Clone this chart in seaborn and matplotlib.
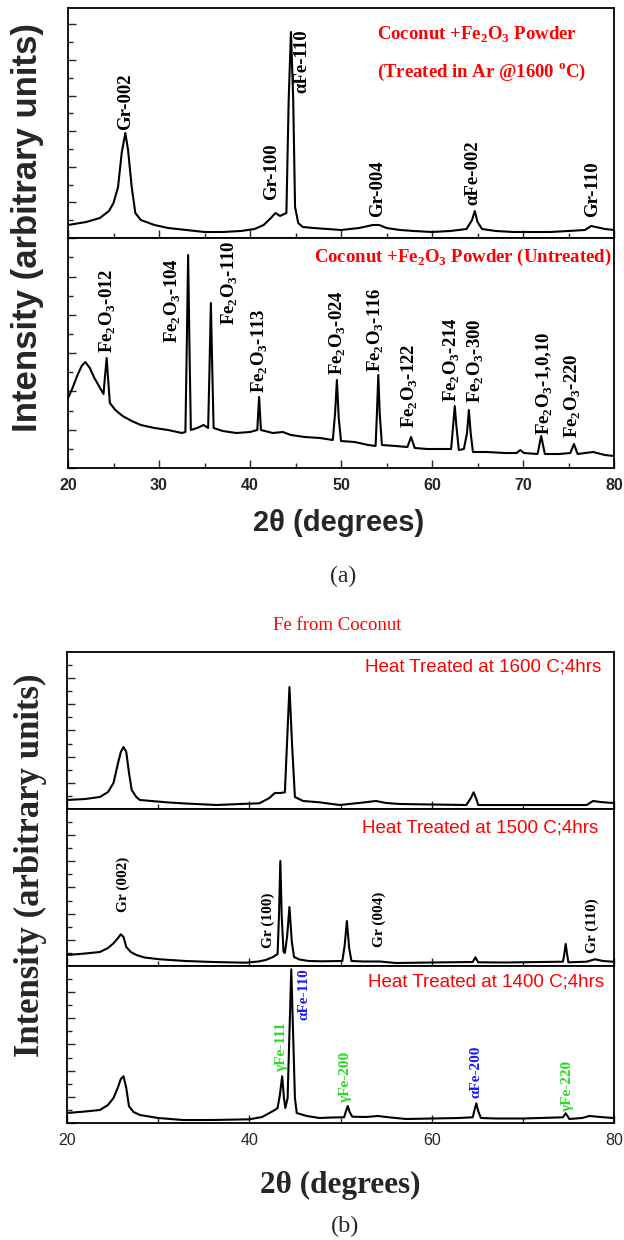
import matplotlib
matplotlib.use("Agg")
from matplotlib import pyplot as plt
from matplotlib.ticker import MultipleLocator
import seaborn as sns

# ------------------------------------------------------------
#     data (intensity in arbitrary units)
# ------------------------------------------------------------

# (a) top: Coconut + Fe2O3, treated in Ar @1600 C
tt_a_treated = [20.0, 22.0, 23.5, 24.5, 25.0, 25.5, 25.9, 26.3, 26.6, 27.0, 27.4, 28.0,
                29.5, 31.0, 33.0, 35.0, 37.0, 39.0, 40.5, 41.5, 42.3, 42.8, 43.3, 44.0,
                44.25, 44.5, 44.75, 44.95, 45.3, 45.8, 47.0, 48.5, 50.0, 52.0, 53.5, 54.2,
                55.0, 56.5, 58.0, 60.0, 62.0, 63.8, 64.4, 64.7, 65.0, 65.5, 67.0, 69.0,
                71.0, 73.0, 75.0, 76.8, 77.5, 78.0, 79.0, 80.0]
i_a_treated = [13, 16, 20, 27, 35, 51, 85, 105, 88, 51, 25, 18,
               13, 10, 8, 6, 6, 7, 9, 13, 20, 25, 22, 25,
               138, 206, 138, 31, 15, 11, 10, 9, 8, 10, 13, 13,
               10, 8, 7, 6, 7, 9, 18, 27, 16, 9, 7, 6,
               6, 6, 7, 8, 12, 11, 9, 8]

# (a) bottom: Coconut + Fe2O3, untreated
tt_a_raw = [20.0, 20.5, 21.0, 21.5, 21.9, 22.4, 22.9, 23.4, 23.9, 24.1, 24.25, 24.4,
            24.6, 25.2, 26.0, 27.0, 28.0, 29.5, 31.0, 32.5, 32.9, 33.05, 33.2, 33.35,
            33.5, 34.2, 34.9, 35.4, 35.55, 35.7, 35.85, 36.0, 37.0, 38.5, 40.0, 40.8,
            41.0, 41.2, 42.5, 43.6, 44.5, 46.0, 47.7, 49.1, 49.35, 49.55, 49.75, 50.0,
            51.5, 53.0, 53.8, 53.95, 54.1, 54.25, 54.5, 56.0, 57.3, 57.7, 58.1, 59.5,
            61.0, 62.1, 62.3, 62.5, 62.7, 62.95, 63.5, 63.85, 64.05, 64.25, 64.5, 66.0,
            68.0, 69.3, 69.7, 70.1, 71.6, 72.0, 72.4, 74.0, 75.2, 75.6, 76.0, 77.7,
            79.0, 80.0]
i_a_raw = [70, 80, 92, 102, 106, 100, 90, 82, 74, 95, 110, 90,
           65, 58, 52, 47, 43, 40, 38, 35, 36, 120, 213, 120,
           38, 40, 43, 40, 100, 165, 100, 40, 37, 35, 36, 38,
           71, 38, 35, 36, 33, 31, 30, 28, 55, 88, 50, 27,
           26, 23, 22, 55, 93, 55, 23, 22, 21, 31, 20, 19,
           19, 19, 40, 62, 40, 18, 19, 35, 58, 35, 16, 16,
           15, 15, 18, 15, 14, 32, 14, 14, 15, 24, 14, 16,
           13, 12]

# (b) Fe from coconut, heat treated 1600 / 1500 / 1400 C, 4 hrs
tt_1600 = [20.0, 22.0, 23.6, 24.5, 25.1, 25.6, 25.9, 26.2, 26.5, 26.8, 27.1, 27.6,
           28.0, 30.9, 33.0, 36.4, 39.0, 41.1, 42.2, 42.8, 43.4, 43.9, 44.1, 44.4,
           44.7, 45.0, 45.9, 47.7, 49.9, 52.0, 53.9, 55.0, 56.5, 60.0, 63.8, 64.3,
           64.6, 64.9, 65.1, 68.0, 72.0, 77.0, 77.7, 78.5, 79.9]
i_1600 = [9, 10, 12, 17, 26, 46, 57, 62, 57, 36, 19, 12,
          9, 6.7, 5.5, 4, 5, 5.7, 11, 16, 16, 16.7, 59, 122,
          62, 12, 8, 6.7, 4, 6, 8, 6, 5, 4.5, 4, 11,
          16.7, 10, 4, 4, 4, 4, 8, 7, 6]

tt_1500 = [20.0, 22.0, 23.6, 24.5, 25.1, 25.6, 25.9, 26.2, 26.5, 27.0, 27.6, 28.5,
           30.2, 33.0, 36.0, 39.6, 41.0, 41.8, 42.6, 43.1, 43.25, 43.4, 43.55, 43.75,
           43.9, 44.15, 44.4, 44.65, 44.9, 45.5, 46.5, 48.0, 50.2, 50.45, 50.7, 50.95,
           51.2, 52.5, 54.3, 56.1, 60.0, 64.5, 64.8, 65.1, 68.0, 72.0, 74.4, 74.55,
           74.7, 74.85, 75.0, 77.0, 77.9, 78.8, 79.9]
i_1500 = [11, 12.5, 14, 18, 22.7, 28, 31.7, 29, 19, 14, 11, 8.5,
          6.7, 5, 4, 3.3, 4.5, 6, 9, 12, 50, 105, 50, 14,
          13, 30, 59, 25, 9, 6.5, 5, 4.7, 5, 20, 45, 18,
          5, 4.5, 4.5, 3, 3.5, 4, 8.7, 3.7, 3.5, 4, 4.3, 12,
          22, 12, 3.7, 4.3, 6.7, 5, 4.3]

tt_1400 = [20.0, 22.0, 23.6, 24.5, 25.1, 25.6, 25.9, 26.2, 26.5, 26.8, 27.3, 28.0,
           30.0, 32.7, 36.0, 40.0, 41.4, 42.2, 42.8, 43.1, 43.35, 43.6, 43.8, 43.95,
           44.2, 44.4, 44.6, 44.8, 45.0, 45.2, 46.3, 47.7, 49.0, 50.4, 50.6, 50.8,
           51.0, 51.3, 52.8, 54.1, 55.5, 57.2, 60.0, 63.0, 64.5, 64.7, 64.9, 65.1,
           65.4, 67.0, 70.0, 74.4, 74.7, 75.1, 76.5, 77.3, 78.5, 79.9]
i_1400 = [10, 11.5, 13, 18, 25, 36, 44, 46.7, 35, 16.7, 11, 8,
          5, 3, 3, 3.7, 6, 10, 13, 15, 28, 46.7, 25, 15,
          25, 90, 153.7, 90, 25, 10, 7, 5, 5.5, 5.7, 12, 17,
          11, 6.3, 6, 7, 5.5, 4, 4.5, 5, 5.7, 13, 19.7, 12,
          5, 4.5, 4.5, 5.7, 9.7, 4, 5, 7, 6, 5]

# peak labels: text, 2theta, height where the label starts
lab_a_treated = ["Gr-002", "Gr-100", "\u03b1Fe-110", "Gr-004", "\u03b1Fe-002", "Gr-110"]
lab_a_treated_x = [26.3, 42.4, 45.7, 54.0, 64.5, 77.7]
lab_a_treated_y = [108, 38, 145, 21, 33, 21]

fe2o3 = r"Fe$_\mathregular{2}$O$_\mathregular{3}$-"
lab_a_raw = ["012", "104", "110", "113", "024", "116", "122", "214", "300", "1,0,10", "220"]
lab_a_raw_x = [24.4, 31.5, 37.8, 41.1, 49.6, 53.8, 57.6, 62.2, 64.8, 72.4, 75.5]
lab_a_raw_y = [115, 125, 143, 75, 93, 96, 40, 66, 65, 33, 30]

lab_1500 = ["Gr (002)", "Gr (100)", "Gr (004)", "Gr (110)"]
lab_1500_x = [26.2, 42.1, 54.3, 77.6]
lab_1500_y = [54, 18, 19, 13]

lab_1400 = ["\u03b3Fe-111", "\u03b1Fe-110", "\u03b3Fe-200", "\u03b1Fe-200", "\u03b3Fe-220"]
lab_1400_x = [43.5, 46.0, 50.6, 64.9, 74.9]
lab_1400_y = [51, 103, 20, 25, 11]
lab_1400_c = ["#22dd22", "#1a1aff", "#22dd22", "#1a1aff", "#22dd22"]

# ------------------------------------------------------------
#     plotting
# ------------------------------------------------------------

sns.set_style("ticks")
plt.rcParams["font.family"] = ["Liberation Sans", "DejaVu Sans"]
plt.rcParams["mathtext.fontset"] = "dejavusans"

W, H = 624, 1240
fig = plt.figure(figsize=(W / 100, H / 100), dpi=100)

SERIF = ["Liberation Serif", "DejaVu Serif"]
SANS = ["Liberation Sans", "DejaVu Sans"]


def add_ax(x0, y0, x1, y1):
    return fig.add_axes([x0 / W, 1 - y1 / H, (x1 - x0) / W, (y1 - y0) / H])


def panel(ax, tt, inten, ymax, ystep, xstep, labels_on, bold_ticks):
    sns.lineplot(x=tt, y=inten, ax=ax, color="black", linewidth=1.5,
                 estimator=None, sort=False)
    ax.set_xlim(20, 80)
    ax.set_ylim(0, ymax)
    ax.set_xlabel("")
    ax.set_ylabel("")
    ax.xaxis.set_major_locator(MultipleLocator(xstep))
    ax.xaxis.set_minor_locator(MultipleLocator(xstep / 2))
    ax.yaxis.set_major_locator(MultipleLocator(ystep))
    ax.yaxis.set_minor_locator(MultipleLocator(ystep / 2))
    ax.tick_params(which="both", direction="in", top=False, right=False,
                   labelleft=False, labelbottom=labels_on, width=1.0)
    ax.tick_params(which="major", length=6, pad=7)
    ax.tick_params(which="minor", length=3.5)
    for s in ax.spines.values():
        s.set_visible(True)
        s.set_linewidth(1.3)
        s.set_color("black")
    for t in ax.get_xticklabels():
        t.set_fontsize(11.5)
        t.set_family(SANS)
        if bold_ticks:
            t.set_fontweight("bold")


def peak_labels(ax, texts, xs, ys, size, colors=None):
    for k, (t, x, y) in enumerate(zip(texts, xs, ys)):
        ax.text(x, y, t, rotation=90, ha="center", va="bottom", fontsize=size,
                fontweight="bold", family=SERIF,
                color="black" if colors is None else colors[k])


# ---------------- (a) ----------------
ax1 = add_ax(68, 8, 614, 238)
panel(ax1, tt_a_treated, i_a_treated, 230, 35.6, 10, False, True)
peak_labels(ax1, lab_a_treated, lab_a_treated_x, lab_a_treated_y, 13.5)
ax1.text(0.749, 0.883, r"Coconut +Fe$_\mathregular{2}$O$_\mathregular{3}$ Powder",
         transform=ax1.transAxes, ha="center", va="center", color="red",
         fontsize=13.5, fontweight="bold", family=SERIF)
ax1.text(0.758, 0.722, r"(Treated in Ar @1600 $^\mathregular{o}$C)",
         transform=ax1.transAxes, ha="center", va="center", color="red",
         fontsize=13.5, fontweight="bold", family=SERIF)

ax2 = add_ax(68, 238, 614, 468)
panel(ax2, tt_a_raw, i_a_raw, 230, 38.3, 10, True, True)
peak_labels(ax2, [fe2o3 + s for s in lab_a_raw], lab_a_raw_x, lab_a_raw_y, 13.5)
ax2.text(0.723, 0.917,
         r"Coconut +Fe$_\mathregular{2}$O$_\mathregular{3}$ Powder (Untreated)",
         transform=ax2.transAxes, ha="center", va="center", color="red",
         fontsize=13.5, fontweight="bold", family=SERIF)

fig.text(28 / W, 1 - 228 / H, "Intensity (arbitrary units)", rotation=90,
         ha="center", va="center", fontsize=25, fontweight="bold", family=SANS)
fig.text(339 / W, 1 - 523 / H, "2\u03b8 (degrees)", ha="center", va="center",
         fontsize=21, fontweight="bold", family=SANS)
fig.text(343 / W, 1 - 576 / H, "(a)", ha="center", va="center", fontsize=17,
         family=SERIF)

# ---------------- (b) ----------------
fig.text(337 / W, 1 - 625 / H, "Fe from Coconut", ha="center", va="center",
         fontsize=13.5, color="red", family=SERIF)

ax3 = add_ax(67, 652, 614, 809)
panel(ax3, tt_1600, i_1600, 157, 26.2, 20, False, False)
ax3.text(0.76, 0.906, "Heat Treated at 1600 C;4hrs", transform=ax3.transAxes,
         ha="center", va="center", color="red", fontsize=13.5, family=SANS)

ax4 = add_ax(67, 809, 614, 966)
panel(ax4, tt_1500, i_1500, 157, 26.2, 20, False, False)
peak_labels(ax4, lab_1500, lab_1500_x, lab_1500_y, 11)
ax4.text(0.755, 0.879, "Heat Treated at 1500 C;4hrs", transform=ax4.transAxes,
         ha="center", va="center", color="red", fontsize=13.5, family=SANS)

ax5 = add_ax(67, 966, 614, 1123)
panel(ax5, tt_1400, i_1400, 157, 26.2, 20, True, False)
peak_labels(ax5, lab_1400, lab_1400_x, lab_1400_y, 11, lab_1400_c)
ax5.text(0.767, 0.9, "Heat Treated at 1400 C;4hrs", transform=ax5.transAxes,
         ha="center", va="center", color="red", fontsize=13.5, family=SANS)

fig.text(30 / W, 1 - 865 / H, "Intensity (arbitrary units)", rotation=90,
         ha="center", va="center", fontsize=25, fontweight="bold", family=SERIF)
fig.text(340 / W, 1 - 1185 / H, "2\u03b8 (degrees)", ha="center", va="center",
         fontsize=22.5, fontweight="bold", family=SERIF)
fig.text(345 / W, 1 - 1226 / H, "(b)", ha="center", va="center", fontsize=17.5,
         family=SERIF)

fig.savefig("out.png", dpi=100)
